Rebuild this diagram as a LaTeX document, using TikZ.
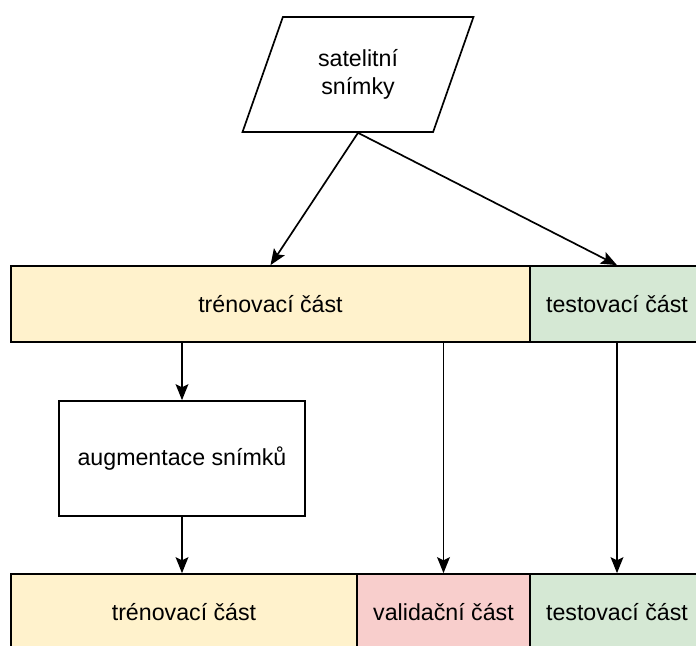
\documentclass[tikz,border=0pt]{standalone}
\usepackage{fontspec}
\setmainfont{Liberation Sans}
\usepackage{tikz}
\usetikzlibrary{positioning,arrows.meta,shapes.geometric}
\usepackage{xcolor}
\definecolor{trainfill}{HTML}{FFF2CC}
\definecolor{testfill}{HTML}{D5E8D4}
\definecolor{valfill}{HTML}{F8CECC}

\begin{document}
\begin{tikzpicture}[
    font=\fontsize{16.5}{20}\selectfont,
    part/.style={draw, rectangle, line width=1.2pt, minimum height=1.9cm, inner sep=0pt},
    arr/.style={-{Stealth[length=0.4cm,width=0.32cm,inset=0.08cm]}, line width=1.2pt}
  ]
  \useasboundingbox (0,0) rectangle (17.4,16.15);
  \clip (0,0) rectangle (17.4,16.15);

  % vstup
  \node[draw, trapezium, trapezium left angle=68, trapezium right angle=112, trapezium stretches=true,
        minimum width=5.8cm, minimum height=2.875cm, line width=1.2pt, align=center] (sat) at (8.95,14.2875) {satelitní\\snímky};

  % prvni rozdeleni
  \node[part, fill=trainfill, minimum width=12.975cm] (train1) at (6.7625,8.55) {trénovací část};
  \node[part, fill=testfill, minimum width=4.35cm] (test1) at (15.425,8.55) {testovací část};

  % augmentace
  \node[draw, rectangle, line width=1.2pt, minimum width=6.15cm, minimum height=2.875cm] (aug) at (4.55,4.6875) {augmentace snímků};

  % druhe rozdeleni
  \node[part, fill=trainfill, minimum width=8.65cm] (train2) at (4.6,0.85) {trénovací část};
  \node[part, fill=valfill, minimum width=4.325cm] (val) at (11.0875,0.85) {validační část};
  \node[part, fill=testfill, minimum width=4.35cm] (test2) at (15.425,0.85) {testovací část};

  % sipky
  \draw[arr] (sat.south) -- (train1.north);
  \draw[arr] (sat.south) -- (test1.north);
  \draw[arr] (aug.north |- train1.south) -- (aug.north);
  \draw[arr] (aug.south) -- (aug.south |- train2.north);
  \draw[arr] (val.north |- train1.south) -- (val.north);
  \draw[arr] (test1.south) -- (test2.north);
\end{tikzpicture}
\end{document}
